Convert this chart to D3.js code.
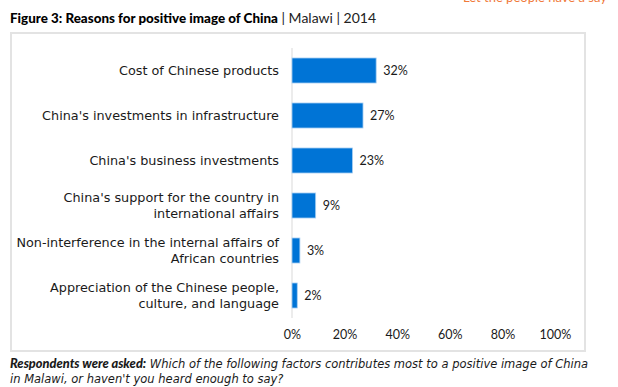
<!DOCTYPE html>
<html lang="en">
<head>
    <meta charset="UTF-8">
    <title>Reasons for positive image of China - Malawi 2014</title>
    <script src="https://d3js.org/d3.v7.min.js"></script>
    <style>
        body { margin: 0; background: #fff; }
        svg { font-family: "Lato", "DejaVu Sans", sans-serif; }
        .cat-label { font-family: "DejaVu Sans", sans-serif; font-size: 12.8px; fill: #1a1a1a; text-anchor: end; }
        .val-label { font-size: 12.5px; fill: #1a1a1a; }
        .tick text { font-size: 12.5px; fill: #1a1a1a; font-family: "Lato", sans-serif; }
        .note { font-family: "DejaVu Sans", sans-serif; font-size: 11.5px; font-style: italic; fill: #1a1a1a; }
    </style>
</head>
<body>
<svg width="618" height="387"></svg>
<script>
    const categories = [
        ["Cost of Chinese products"],
        ["China's investments in infrastructure"],
        ["China's business investments"],
        ["China's support for the country in", "international affairs"],
        ["Non-interference in the internal affairs of", "African countries"],
        ["Appreciation of the Chinese people,", "culture, and language"]
    ];
    const values = [32, 27, 23, 9, 3, 2];
    const tickValues = [0, 20, 40, 60, 80, 100];

    const svg = d3.select("svg");

    // header
    svg.append("text")
        .attr("x", 463).attr("y", 1.5)
        .attr("fill", "#f07a3a")
        .attr("font-size", 13)
        .text("Let the people have a say");

    const title = svg.append("text")
        .attr("x", 10).attr("y", 23)
        .attr("font-size", 13.4);
    title.append("tspan").attr("font-weight", "900").text("Figure 3: Reasons for positive image of China");
    title.append("tspan").attr("fill", "#222").attr("font-size", 14).text(" | Malawi | 2014");

    // frame
    svg.append("rect")
        .attr("x", 11).attr("y", 33)
        .attr("width", 574).attr("height", 318)
        .attr("fill", "none")
        .attr("stroke", "#e3e3e3")
        .attr("stroke-width", 2);

    const x = d3.scaleLinear().domain([0, 100]).range([292, 555]);
    const y = d3.scaleBand()
        .domain(d3.range(values.length))
        .range([48, 318])
        .paddingInner(0.444)
        .paddingOuter(0.222);

    svg.append("line")
        .attr("x1", x(0)).attr("x2", x(0))
        .attr("y1", 48).attr("y2", 318)
        .attr("stroke", "#d9d9d9");

    svg.append("g")
        .selectAll("rect")
        .data(values)
        .enter().append("rect")
        .attr("x", x(0))
        .attr("y", (d, i) => y(i))
        .attr("width", d => x(d) - x(0))
        .attr("height", y.bandwidth())
        .attr("fill", "#0074d6")
        .attr("stroke", "#a8cff2")
        .attr("stroke-width", 0.8);

    svg.append("g")
        .selectAll("text")
        .data(values)
        .enter().append("text")
        .attr("class", "val-label")
        .attr("x", d => x(d) + 7)
        .attr("y", (d, i) => y(i) + y.bandwidth() / 2)
        .attr("dy", "0.35em")
        .text(d => d + "%");

    const labels = svg.append("g")
        .selectAll("text")
        .data(categories)
        .enter().append("text")
        .attr("class", "cat-label")
        .attr("y", (d, i) => y(i) + y.bandwidth() / 2);
    labels.selectAll("tspan")
        .data(d => d.map((t, j) => ({ t, j, n: d.length })))
        .enter().append("tspan")
        .attr("x", 279)
        .attr("dy", d => d.j === 0 ? (0.35 - (d.n - 1) * 0.6) + "em" : "1.2em")
        .text(d => d.t);

    const axis = svg.append("g")
        .attr("transform", "translate(0,318)")
        .call(d3.axisBottom(x).tickValues(tickValues).tickSize(0).tickPadding(12).tickFormat(d => d + "%"));
    axis.select(".domain").remove();

    // footnote
    const note = svg.append("text")
        .attr("class", "note")
        .attr("x", 10).attr("y", 368);
    note.append("tspan")
        .attr("font-family", "Lato, sans-serif")
        .attr("font-weight", "900")
        .attr("font-size", 12.8)
        .text("Respondents were asked:");
    note.append("tspan").text(" Which of the following factors contributes most to a positive image of China");
    svg.append("text")
        .attr("class", "note")
        .attr("x", 10).attr("y", 383)
        .text("in Malawi, or haven't you heard enough to say?");
</script>
</body>
</html>
